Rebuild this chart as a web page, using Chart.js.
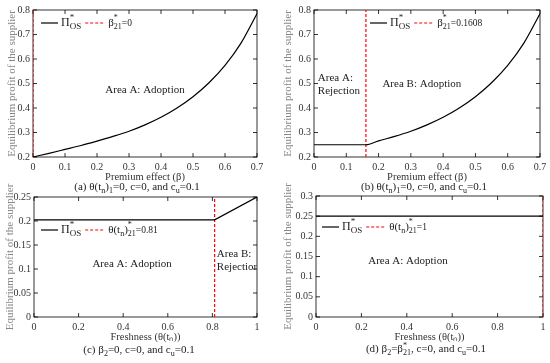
<!DOCTYPE html>
<html>
<head>
<meta charset="utf-8">
<script src="https://cdn.jsdelivr.net/npm/chart.js@4.4.0/dist/chart.umd.min.js"></script>
<style>
  body { margin: 0; background: #fff; }
  #wrap { position: relative; width: 550px; height: 363px; overflow: hidden; font-family: "Liberation Serif", serif; }
  .panel { position: absolute; }
  .cap { position: absolute; transform: translate(-50%, -50%); font-size: 11px; white-space: nowrap; color: #222; line-height: 1; }
  .cap sub { font-size: 8px; vertical-align: -3px; line-height: 0; }
  .ss { display: inline-flex; flex-direction: column; vertical-align: middle; font-size: 8px; line-height: 0.9; }
</style>
</head>
<body>
<div id="wrap">
  <div class="panel" id="pa"><canvas id="cA"></canvas></div>
  <div class="panel" id="pb"><canvas id="cB"></canvas></div>
  <div class="panel" id="pc"><canvas id="cC"></canvas></div>
  <div class="panel" id="pd"><canvas id="cD"></canvas></div>
  <div class="cap" style="left:137px; top:186px">(a) θ(t<sub>n</sub>)<sub>1</sub>=0, c=0, and c<sub>u</sub>=0.1</div>
  <div class="cap" style="left:424px; top:186px">(b) θ(t<sub>n</sub>)<sub>1</sub>=0, c=0, and c<sub>u</sub>=0.1</div>
  <div class="cap" style="left:139px; top:349px">(c) β<sub>2</sub>=0, c=0, and c<sub>u</sub>=0.1</div>
  <div class="cap" style="left:426px; top:349px">(d) β<sub>2</sub>=β<span class="ss"><span>*</span><span>21</span></span>, c=0, and c<sub>u</sub>=0.1</div>
</div>
<script>
// ---- data ----
// (a) premium effect vs supplier profit
const betaA   = [0, 0.05, 0.1, 0.15, 0.2, 0.25, 0.3, 0.35, 0.4, 0.45, 0.5, 0.55, 0.6, 0.65, 0.7];
const profitA = [0.200, 0.215, 0.231, 0.247, 0.265, 0.284, 0.305, 0.331, 0.362, 0.400, 0.446, 0.503, 0.574, 0.665, 0.785];
const betaStarA = 0;

// (b) flat until threshold, then rising
const betaB   = [0, 0.1608, 0.2, 0.25, 0.3, 0.35, 0.4, 0.45, 0.5, 0.55, 0.6, 0.65, 0.7];
const profitB = [0.25, 0.25, 0.266, 0.284, 0.305, 0.331, 0.362, 0.400, 0.446, 0.503, 0.574, 0.665, 0.785];
const betaStarB = 0.1608;

// (c) freshness
const freshC  = [0, 0.81, 1];
const profitC = [0.2025, 0.2025, 0.25];
const freshStarC = 0.81;

// (d)
const freshD  = [0, 1];
const profitD = [0.25, 0.25];
const freshStarD = 1;

// tick labels
const xTicksBeta  = [0, 0.1, 0.2, 0.3, 0.4, 0.5, 0.6, 0.7];
const yTicksAB    = [0.2, 0.3, 0.4, 0.5, 0.6, 0.7, 0.8];
const xTicksFresh = [0, 0.2, 0.4, 0.6, 0.8, 1];
const yTicksC     = [0, 0.05, 0.1, 0.15, 0.2, 0.25];
const yTicksD     = [0, 0.05, 0.1, 0.15, 0.2, 0.25, 0.3];

const FONT = '"Liberation Serif", "Times New Roman", serif';

// text with stacked superscript / subscript parts: [text, sup, sub, size]
function drawRich(ctx, parts, x, y, size) {
  let cx = x;
  ctx.textBaseline = 'middle';
  ctx.textAlign = 'left';
  for (const [t, sup, sub, sz] of parts) {
    const s = sz || size;
    ctx.font = s + 'px ' + FONT;
    ctx.fillText(t, cx, y);
    cx += ctx.measureText(t).width;
    let w = 0;
    ctx.font = Math.round(size * 0.72) + 'px ' + FONT;
    if (sup) { ctx.fillText(sup, cx, y - size * 0.42); w = ctx.measureText(sup).width; }
    if (sub) { ctx.fillText(sub, cx, y + size * 0.32); w = Math.max(w, ctx.measureText(sub).width); }
    cx += w;
  }
  return cx;
}

const framePlugin = {
  id: 'frame',
  beforeDatasetsDraw(chart) {
    const { ctx, chartArea: a, scales: { x, y } } = chart;
    ctx.save();
    ctx.strokeStyle = '#000';
    ctx.lineWidth = 0.8;
    ctx.strokeRect(a.left, a.top, a.right - a.left, a.bottom - a.top);
    const tl = 4;
    ctx.beginPath();
    x.ticks.forEach(t => {
      const px = x.getPixelForValue(t.value);
      ctx.moveTo(px, a.bottom); ctx.lineTo(px, a.bottom - tl);
      ctx.moveTo(px, a.top); ctx.lineTo(px, a.top + tl);
    });
    y.ticks.forEach(t => {
      const py = y.getPixelForValue(t.value);
      ctx.moveTo(a.left, py); ctx.lineTo(a.left + tl, py);
      ctx.moveTo(a.right, py); ctx.lineTo(a.right - tl, py);
    });
    ctx.stroke();
    ctx.restore();
  },
  afterDatasetsDraw(chart, args, opts) {
    const { ctx, chartArea: a, scales: { x, y } } = chart;
    ctx.save();
    ctx.fillStyle = '#222';
    // area notes, placed in data coords
    ctx.beginPath();
    ctx.rect(a.left, a.top, a.right - a.left, a.bottom - a.top);
    ctx.clip();
    ctx.font = '11px ' + FONT;
    ctx.textBaseline = 'middle';
    (opts.notes || []).forEach(n => {
      ctx.textAlign = n.align || 'center';
      ctx.fillText(n.text, x.getPixelForValue(n.x), y.getPixelForValue(n.y));
    });
    ctx.restore();

    // legend
    const lg = opts.legend;
    if (!lg) return;
    ctx.save();
    ctx.fillStyle = '#222';
    const ly = a.top + lg.y;
    let lx = a.left + lg.x;
    ctx.lineWidth = 1.2;
    ctx.strokeStyle = '#000';
    ctx.beginPath(); ctx.moveTo(lx, ly); ctx.lineTo(lx + 17, ly); ctx.stroke();
    lx = drawRich(ctx, lg.first, lx + 20, ly, 12);
    lx += 4;
    ctx.strokeStyle = '#ff0000';
    ctx.setLineDash([3, 2]);
    ctx.beginPath(); ctx.moveTo(lx, ly); ctx.lineTo(lx + 19, ly); ctx.stroke();
    ctx.setLineDash([]);
    drawRich(ctx, lg.second, lx + 23, ly, 11);
    ctx.restore();
  }
};

function makePanel(canvasId, box, p) {
  const holder = document.getElementById(canvasId).parentNode;
  Object.assign(holder.style, { left: box.left + 'px', top: box.top + 'px', width: box.w + 'px', height: box.h + 'px' });
  const yMin = p.yTicks[0], yMax = p.yTicks[p.yTicks.length - 1];
  const xMin = p.xTicks[0], xMax = p.xTicks[p.xTicks.length - 1];
  return new Chart(document.getElementById(canvasId), {
    type: 'line',
    data: {
      datasets: [{
        data: p.xs.map((v, i) => ({ x: v, y: p.ys[i] })),
        borderColor: '#000',
        borderWidth: 1.2,
        pointRadius: 0,
        cubicInterpolationMode: p.smooth ? 'monotone' : 'default',
        tension: 0
      }, {
        data: [{ x: p.star, y: yMin }, { x: p.star, y: yMax }],
        borderColor: '#ff0000',
        borderDash: [3, 2],
        borderWidth: 1.2,
        pointRadius: 0
      }]
    },
    options: {
      responsive: true,
      maintainAspectRatio: false,
      animation: false,
      layout: { padding: { top: box.pt, right: box.pr, left: 0, bottom: 0 } },
      plugins: {
        legend: { display: false },
        tooltip: { enabled: false },
        frame: { legend: p.legend, notes: p.notes }
      },
      scales: {
        x: {
          type: 'linear', min: xMin, max: xMax,
          grid: { display: false, drawTicks: false },
          border: { display: false },
          afterBuildTicks: s => { s.ticks = p.xTicks.map(v => ({ value: v })); },
          afterFit: s => { s.height = box.xh; s.paddingLeft = 0; s.paddingRight = 0; },
          ticks: { color: '#333', padding: 4, maxRotation: 0, font: { family: FONT, size: 10 }, callback: v => String(v) },
          title: { display: true, text: p.xTitle, color: '#333', padding: { top: 0, bottom: box.xtb }, font: { family: FONT, size: 10.5, lineHeight: 1 } }
        },
        y: {
          type: 'linear', min: yMin, max: yMax,
          grid: { display: false, drawTicks: false },
          border: { display: false },
          afterBuildTicks: s => { s.ticks = p.yTicks.map(v => ({ value: v })); },
          afterFit: s => { s.width = box.yw; s.paddingTop = 0; s.paddingBottom = 0; },
          ticks: { color: '#333', padding: 3, font: { family: FONT, size: 10 }, callback: v => String(v) },
          title: { display: true, text: 'Equilibrium profit of the supplier', color: '#888', padding: { top: box.ytp, bottom: 0 }, font: { family: FONT, size: 11, lineHeight: 1 } }
        }
      }
    },
    plugins: [framePlugin]
  });
}

makePanel('cA', { left: 0, top: 0, w: 275, h: 182, pt: 10, pr: 18, yw: 33, xh: 25, ytp: 6.5, xtb: 0 }, {
  xs: betaA, ys: profitA, star: betaStarA, smooth: true,
  xTicks: xTicksBeta, yTicks: yTicksAB, xTitle: 'Premium effect (β)',
  legend: { x: 8, y: 13, first: [['Π', '*', 'OS']], second: [['β', '*', '21'], ['=0', null, null, 9.5]] },
  notes: [{ text: 'Area A: Adoption', x: 0.35, y: 0.473 }]
});

makePanel('cB', { left: 275, top: 0, w: 275, h: 182, pt: 10, pr: 10, yw: 39, xh: 25, ytp: 7.5, xtb: 0 }, {
  xs: betaB, ys: profitB, star: betaStarB, smooth: true,
  xTicks: xTicksBeta, yTicks: yTicksAB, xTitle: 'Premium effect (β)',
  legend: { x: 56, y: 13, first: [['Π', '*', 'OS']], second: [['β', '*', '21'], ['=0.1608', null, null, 9.5]] },
  notes: [
    { text: 'Area A:', x: 0.012, y: 0.522, align: 'left' },
    { text: 'Rejection', x: 0.012, y: 0.469, align: 'left' },
    { text: 'Area B: Adoption', x: 0.334, y: 0.498 }
  ]
});

makePanel('cC', { left: 0, top: 182, w: 275, h: 161, pt: 15, pr: 18, yw: 34, xh: 26, ytp: 4.5, xtb: 1 }, {
  xs: freshC, ys: profitC, star: freshStarC, smooth: false,
  xTicks: xTicksFresh, yTicks: yTicksC, xTitle: 'Freshness (θ(tₙ))',
  legend: { x: 7, y: 33, first: [['Π', '*', 'OS']], second: [['θ(t', null, 'n'], [')', '*', '21'], ['=0.81', null, null, 9.5]] },
  notes: [
    { text: 'Area A: Adoption', x: 0.44, y: 0.110 },
    { text: 'Area B:', x: 0.82, y: 0.131, align: 'left' },
    { text: 'Rejection', x: 0.82, y: 0.104, align: 'left' }
  ]
});

makePanel('cD', { left: 275, top: 182, w: 275, h: 161, pt: 14, pr: 7, yw: 41, xh: 26, ytp: 7.5, xtb: 1 }, {
  xs: freshD, ys: profitD, star: freshStarD, smooth: false,
  xTicks: xTicksFresh, yTicks: yTicksD, xTitle: 'Freshness (θ(tₙ))',
  legend: { x: 6, y: 31, first: [['Π', '*', 'OS']], second: [['θ(t', null, 'n'], [')', '*', '21'], ['=1', null, null, 9.5]] },
  notes: [{ text: 'Area A: Adoption', x: 0.405, y: 0.139 }]
});
</script>
</body>
</html>
